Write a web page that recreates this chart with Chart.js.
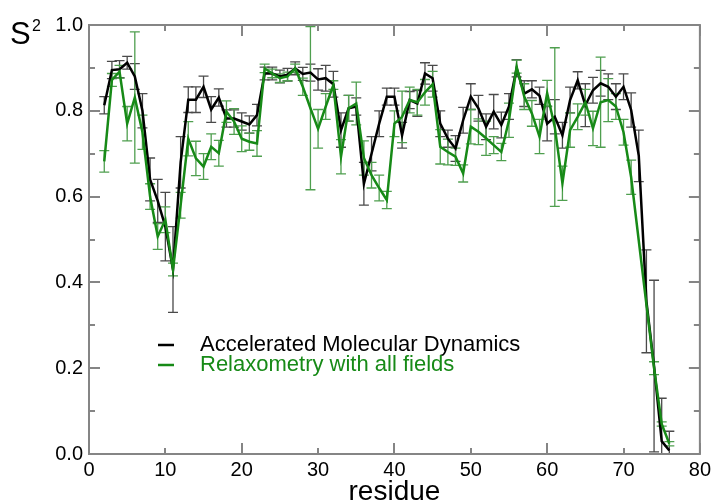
<!DOCTYPE html>
<html>
<head>
<meta charset="utf-8">
<script src="https://cdn.jsdelivr.net/npm/chart.js@4.4.0/dist/chart.umd.min.js"></script>
<style>
  html, body { margin: 0; padding: 0; background: #fff; }
  #wrap { width: 715px; height: 503px; }
</style>
</head>
<body>
<div id="wrap"><canvas id="s2chart" width="715" height="503"></canvas></div>
<script>
// order parameters per residue
const residues = [
  2, 3, 4, 5, 6, 7, 8, 9, 10, 11, 12, 13, 14, 15, 16, 17, 18, 19, 20, 21,
  22, 23, 24, 25, 26, 27, 28, 29, 30, 31, 32, 33, 34, 35, 36, 37, 38, 39, 40, 41,
  42, 43, 44, 45, 46, 47, 48, 49, 50, 51, 52, 53, 54, 55, 56, 57, 58, 59, 60, 61,
  62, 63, 64, 65, 66, 67, 68, 69, 70, 71, 72, 73, 74, 75, 76
];
const amdS2 = [
  0.813, 0.895, 0.897, 0.912, 0.88, 0.80, 0.64, 0.59, 0.53, 0.43, 0.68, 0.826, 0.826, 0.856, 0.803, 0.831, 0.782, 0.782, 0.775, 0.768,
  0.790, 0.887, 0.887, 0.880, 0.884, 0.899, 0.886, 0.889, 0.873, 0.876, 0.862, 0.755, 0.806, 0.81, 0.63, 0.70, 0.77, 0.833, 0.833, 0.743,
  0.825, 0.817, 0.887, 0.876, 0.77, 0.735, 0.712, 0.778, 0.833, 0.806, 0.763, 0.798, 0.767, 0.81, 0.899, 0.84, 0.85, 0.835, 0.77, 0.786,
  0.743, 0.825, 0.871, 0.813, 0.848, 0.864, 0.856, 0.833, 0.856, 0.802, 0.695, 0.356, 0.205, 0.03, 0.008
];
const amdErr = [
  0.02, 0.02, 0.02, 0.015, 0.03, 0.04, 0.05, 0.05, 0.08, 0.1, 0.06, 0.03, 0.03, 0.025, 0.03, 0.02, 0.02, 0.02, 0.02, 0.02,
  0.025, 0.015, 0.015, 0.015, 0.015, 0.015, 0.015, 0.02, 0.025, 0.03, 0.03, 0.04, 0.03, 0.02, 0.05, 0.04, 0.03, 0.02, 0.02, 0.03,
  0.02, 0.03, 0.025, 0.03, 0.03, 0.02, 0.03, 0.03, 0.03, 0.03, 0.03, 0.04, 0.03, 0.03, 0.02, 0.03, 0.02, 0.02, 0.04, 0.04,
  0.03, 0.03, 0.02, 0.05, 0.03, 0.03, 0.03, 0.03, 0.03, 0.04, 0.06, 0.12, 0.2, 0.1, 0.045
];
const relaxS2 = [
  0.682, 0.872, 0.891, 0.770, 0.831, 0.75, 0.60, 0.507, 0.546, 0.43, 0.58, 0.735, 0.689, 0.670, 0.716, 0.701, 0.798, 0.775, 0.735, 0.728,
  0.724, 0.899, 0.887, 0.876, 0.88, 0.899, 0.856, 0.806, 0.758, 0.81, 0.86, 0.693, 0.806, 0.817, 0.69, 0.65, 0.62, 0.592, 0.77, 0.786,
  0.825, 0.82, 0.843, 0.862, 0.716, 0.704, 0.693, 0.654, 0.763, 0.751, 0.736, 0.72, 0.704, 0.778, 0.903, 0.833, 0.794, 0.74, 0.841, 0.762,
  0.631, 0.755, 0.786, 0.82, 0.759, 0.82, 0.825, 0.81, 0.75, 0.645, null, null, 0.20, 0.07, 0.024
];
const relaxErr = [
  0.025, 0.015, 0.015, 0.04, 0.153, 0.04, 0.03, 0.03, 0.03, 0.015, 0.03, 0.04, 0.04, 0.03, 0.03, 0.03, 0.025, 0.03, 0.03, 0.02,
  0.03, 0.01, 0.01, 0.01, 0.01, 0.01, 0.02, 0.19, 0.045, 0.03, 0.01, 0.04, 0.03, 0.05, 0.04, 0.03, 0.03, 0.02, 0.03, 0.06,
  0.03, 0.03, 0.03, 0.03, 0.04, 0.03, 0.02, 0.02, 0.04, 0.03, 0.04, 0.02, 0.02, 0.04, 0.015, 0.03, 0.03, 0.04, 0.03, 0.185,
  0.04, 0.04, 0.03, 0.03, 0.04, 0.105, 0.05, 0.03, 0.03, 0.04, null, null, 0.015, 0.005, 0.005
];
const seriesNames = ['Accelerated Molecular Dynamics', 'Relaxometry with all fields'];
const xTickValues = [0, 10, 20, 30, 40, 50, 60, 70, 80];
const yTickValues = [0, 0.1, 0.2, 0.3, 0.4, 0.5, 0.6, 0.7, 0.8, 0.9, 1.0];

const FONT = "'Liberation Sans', Arial, Helvetica, sans-serif";
const GREEN = '#178a17';

// vertical error bars with caps, drawn under the lines
const errorBars = {
  id: 'errorBars',
  beforeDatasetsDraw(chart) {
    const { ctx, chartArea: a, scales: { x, y } } = chart;
    ctx.save();
    ctx.beginPath();
    ctx.rect(a.left, a.top, a.width, a.height);
    ctx.clip();
    chart.data.datasets.forEach(ds => {
      ctx.strokeStyle = ds.errorColor;
      ctx.lineWidth = 1.3;
      ds.data.forEach((p, i) => {
        const e = ds.errors[i];
        if (p.y == null || e == null) return;
        const px = x.getPixelForValue(p.x);
        const top = y.getPixelForValue(p.y + e);
        const bot = y.getPixelForValue(p.y - e);
        ctx.beginPath();
        ctx.moveTo(px, top); ctx.lineTo(px, bot);
        ctx.moveTo(px - 5, top); ctx.lineTo(px + 5, top);
        ctx.moveTo(px - 5, bot); ctx.lineTo(px + 5, bot);
        ctx.stroke();
      });
    });
    ctx.restore();
  }
};

// box frame with inward ticks on every side, legend and the S2 label
const frame = {
  id: 'frame',
  afterDraw(chart) {
    const { ctx, chartArea: a, scales: { x, y } } = chart;
    ctx.save();
    ctx.strokeStyle = '#858585';
    ctx.lineWidth = 2;
    ctx.strokeRect(a.left, a.top, a.width, a.height);

    ctx.beginPath();
    xTickValues.forEach(v => {
      const px = Math.round(x.getPixelForValue(v));
      const len = v % 20 === 0 ? 11 : 6;
      ctx.moveTo(px, a.bottom); ctx.lineTo(px, a.bottom - len);
      ctx.moveTo(px, a.top); ctx.lineTo(px, a.top + len);
    });
    yTickValues.forEach(v => {
      const py = Math.round(y.getPixelForValue(v));
      const len = Math.round(v * 10) % 2 === 0 ? 11 : 6;
      ctx.moveTo(a.left, py); ctx.lineTo(a.left + len, py);
      ctx.moveTo(a.right, py); ctx.lineTo(a.right - len, py);
    });
    ctx.stroke();

    // legend
    ctx.font = '22px ' + FONT;
    ctx.textBaseline = 'middle';
    chart.data.datasets.forEach((ds, i) => {
      const ly = 345 + i * 20;
      ctx.strokeStyle = ds.borderColor;
      ctx.lineWidth = 2.5;
      ctx.beginPath();
      ctx.moveTo(158, ly); ctx.lineTo(174, ly);
      ctx.stroke();
      ctx.fillStyle = ds.borderColor;
      ctx.fillText(ds.label, 200, ly);
    });

    // S^2 axis label
    ctx.fillStyle = '#000';
    ctx.textBaseline = 'alphabetic';
    ctx.font = '31px ' + FONT;
    ctx.fillText('S', 10, 44);
    ctx.font = '16px ' + FONT;
    ctx.fillText('2', 32, 31);
    ctx.restore();
  }
};

new Chart(document.getElementById('s2chart'), {
  type: 'line',
  data: {
    datasets: [
      {
        label: seriesNames[0],
        data: residues.map((r, i) => ({ x: r, y: amdS2[i] })),
        errors: amdErr,
        errorColor: '#4a4a4a',
        borderColor: '#000000',
        borderWidth: 2.5,
        pointRadius: 0,
        tension: 0,
        order: 1
      },
      {
        label: seriesNames[1],
        data: residues.map((r, i) => ({ x: r, y: relaxS2[i] })),
        errors: relaxErr,
        errorColor: '#4f9f4f',
        borderColor: GREEN,
        borderWidth: 2.5,
        pointRadius: 0,
        tension: 0,
        spanGaps: true,
        order: 0
      }
    ]
  },
  options: {
    responsive: false,
    animation: false,
    layout: { padding: { left: 0, right: 14, top: 25, bottom: 0 } },
    plugins: { legend: { display: false }, tooltip: { enabled: false } },
    scales: {
      x: {
        type: 'linear',
        min: 0,
        max: 80,
        grid: { display: false, drawTicks: false },
        border: { display: false },
        ticks: { stepSize: 10, padding: 4, color: '#000', font: { family: FONT, size: 20 } },
        title: {
          display: true,
          text: 'residue',
          color: '#000',
          padding: { top: 0, bottom: -3 },
          font: { family: FONT, size: 28, lineHeight: 1 }
        },
        afterFit(scale) { scale.height = 49; }
      },
      y: {
        min: 0,
        max: 1,
        grid: { display: false, drawTicks: false },
        border: { display: false },
        ticks: {
          stepSize: 0.1,
          padding: 6,
          color: '#000',
          font: { family: FONT, size: 20 },
          callback: v => (Math.round(v * 10) % 2 ? '' : v.toFixed(1))
        },
        afterFit(scale) { scale.width = 89; }
      }
    }
  },
  plugins: [errorBars, frame]
});
</script>
</body>
</html>
